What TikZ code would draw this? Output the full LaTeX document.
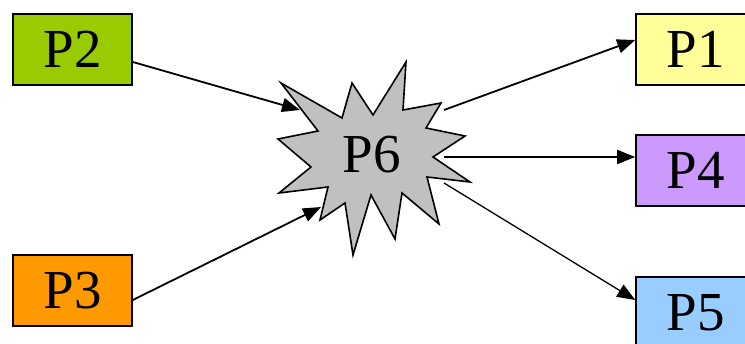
\documentclass[tikz,border=0pt]{standalone}
\usepackage{fontspec}
\setmainfont{Liberation Serif}
\usetikzlibrary{arrows.meta}
\definecolor{cgreen}{HTML}{99CC00}
\definecolor{corange}{HTML}{FF9900}
\definecolor{cyellow}{HTML}{FFFF99}
\definecolor{cpurple}{HTML}{CC99FF}
\definecolor{cblue}{HTML}{99CCFF}
\definecolor{cgrey}{HTML}{C0C0C0}
\tikzset{
  pbox/.style={draw=black, line width=1.6pt, minimum width=119pt, minimum height=71pt,
    inner sep=0pt, font=\fontsize{55}{60}\selectfont},
  arr/.style={-{Triangle[length=18pt,width=14pt]}, line width=1.8pt},
  burst/.style={draw=black, line width=1.6pt, fill=cgrey, line join=miter},
}
\begin{document}
\begin{tikzpicture}[x=1pt,y=-1pt]
\useasboundingbox (0,0) rectangle (745,344);
\clip (0,0) rectangle (745,344);
% boxes
\node[pbox, fill=cgreen]  (p2) at (72.5,49.5) {P2};
\node[pbox, fill=corange] (p3) at (72.5,290.5) {P3};
\node[pbox, fill=cyellow] (p1) at (695.5,49.5) {P1};
\node[pbox, fill=cpurple] (p4) at (695.5,170.5) {P4};
\node[pbox, fill=cblue]   (p5) at (695.5,312.5) {P5};
% starburst
\draw[burst] (281,83) -- (342,118) -- (352,83) -- (373,115) -- (406,62) -- (403,110)
  -- (441,103) -- (426,128) -- (465,136) -- (433,157) -- (470,182) -- (427,177)
  -- (439,224) -- (402,193) -- (395,239) -- (371,195) -- (353,255) -- (345,203)
  -- (320,220) -- (328,187) -- (279,193) -- (311,167) -- (278,139) -- (318,131) -- cycle;
\node[font=\fontsize{55}{60}\selectfont, inner sep=0pt] (p6) at (372,155) {P6};
% connector ends on the starburst
\coordinate (in2) at (300,110);
\coordinate (in3) at (321,207);
\coordinate (out1) at (444,110);
\coordinate (out4) at (444,157);
\coordinate (out5) at (444,183);
% connectors
\draw[arr] ([yshift=-12.5pt]p2.east) -- (in2);
\draw[arr] ([yshift=-9.5pt]p3.east) -- (in3);
\draw[arr] (out1) -- ([yshift=9.5pt]p1.west);
\draw[arr] (out4) -- ([yshift=13.5pt]p4.west);
\draw[arr, line width=1.3pt] (out5) -- ([yshift=12.5pt]p5.west);
\end{tikzpicture}
\end{document}
